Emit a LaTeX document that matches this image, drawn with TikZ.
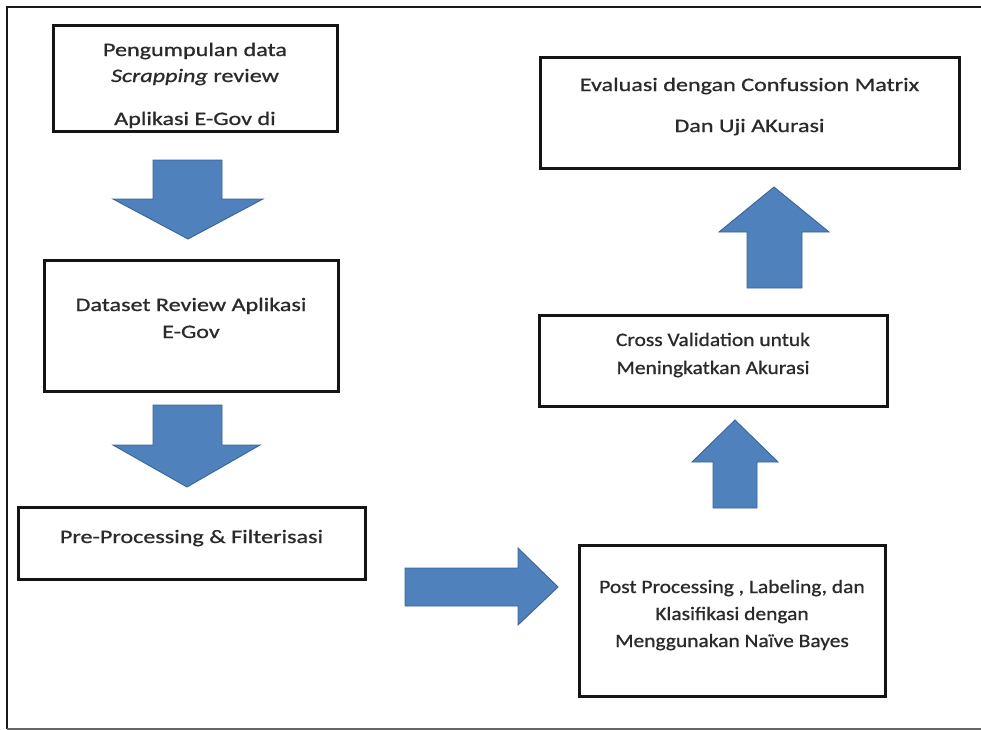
\documentclass[tikz,border=0pt]{standalone}
\usepackage{fontspec}
\setmainfont{Carlito}[FakeStretch=1.27,FakeBold=0.8]
\newfontfamily\narrowfont{Carlito}[FakeStretch=1.13,FakeBold=0.8]
\definecolor{arrowblue}{HTML}{4F81BD}
\definecolor{arrowedge}{HTML}{3B6497}
\definecolor{txtgray}{HTML}{2A2A2A}
\begin{document}
\begin{tikzpicture}[x=1pt,y=-1pt,
  box/.style={draw=black!92, line width=3pt, inner sep=0pt, outer sep=0pt},
  txt/.style={anchor=base, inner sep=0pt, text=txtgray, font=\fontsize{19}{23}\selectfont},
  ntxt/.style={txt, font=\fontsize{19}{23}\narrowfont},
  blockarrow/.style={fill=arrowblue, draw=arrowedge, line width=0.9pt, line join=miter}]
\useasboundingbox (0,0) rectangle (981,729);
\fill[white] (0,0) rectangle (981,729);
% outer frame
\draw[line width=2pt, black!90] (981,7) -- (7,7) -- (7,729);
\draw[line width=2pt, black!60] (7,728.5) -- (981,728.5);

% texts
\node[txt] (l11) at (195,56) {Pengumpulan data};
\node[txt] (l12) at (195,82) {\textit{Scrapping} review};
\node[txt] (l13) at (195,125) {Aplikasi E-Gov di};
\node[txt] (l21) at (191,311) {Dataset Review Aplikasi};
\node[txt] (l22) at (191,338) {E-Gov};
\node[txt] (l31) at (191.5,543) {Pre-Processing \& Filterisasi};
\node[ntxt] (l41) at (732,593) {Post Processing , Labeling, dan};
\node[ntxt] (l42) at (732,620) {Klasifikasi dengan};
\node[ntxt] (l43) at (732,647) {Menggunakan Naïve Bayes};
\node[ntxt] (l51) at (713,346) {Cross Validation untuk};
\node[ntxt] (l52) at (713,374) {Meningkatkan Akurasi};
\node[txt] (l61) at (749.5,91) {Evaluasi dengan Confussion Matrix};
\node[txt] (l62) at (749.5,132) {Dan Uji AKurasi};

% boxes
\node[box, minimum width=284pt, minimum height=106pt] (b1) at (195,78) {};
\node[box, minimum width=294pt, minimum height=131pt] (b2) at (191,325.5) {};
\node[box, minimum width=347pt, minimum height=72pt] (b3) at (191.5,543) {};
\node[box, minimum width=306pt, minimum height=151pt] (b4) at (732,620.5) {};
\node[box, minimum width=348pt, minimum height=91pt] (b5) at (713,360.5) {};
\node[box, minimum width=419pt, minimum height=111pt] (b6) at (749.5,112.5) {};

% block arrows
\draw[blockarrow] (153,160) -- (222,160) -- (222,199) -- (263,199) -- (188,239) -- (113,199) -- (153,199) -- cycle;
\draw[blockarrow] (153,405) -- (222,405) -- (222,445) -- (260,445) -- (187,487) -- (113,445) -- (153,445) -- cycle;
\draw[blockarrow] (405,568) -- (518,568) -- (518,548) -- (558,587) -- (518,625) -- (518,606) -- (405,606) -- cycle;
\draw[blockarrow] (713,508) -- (713,462) -- (692,462) -- (735,420) -- (778,462) -- (757,462) -- (757,508) -- cycle;
\draw[blockarrow] (747,288) -- (747,232) -- (719,232) -- (774,187) -- (829,232) -- (802,232) -- (802,288) -- cycle;
\end{tikzpicture}
\end{document}
